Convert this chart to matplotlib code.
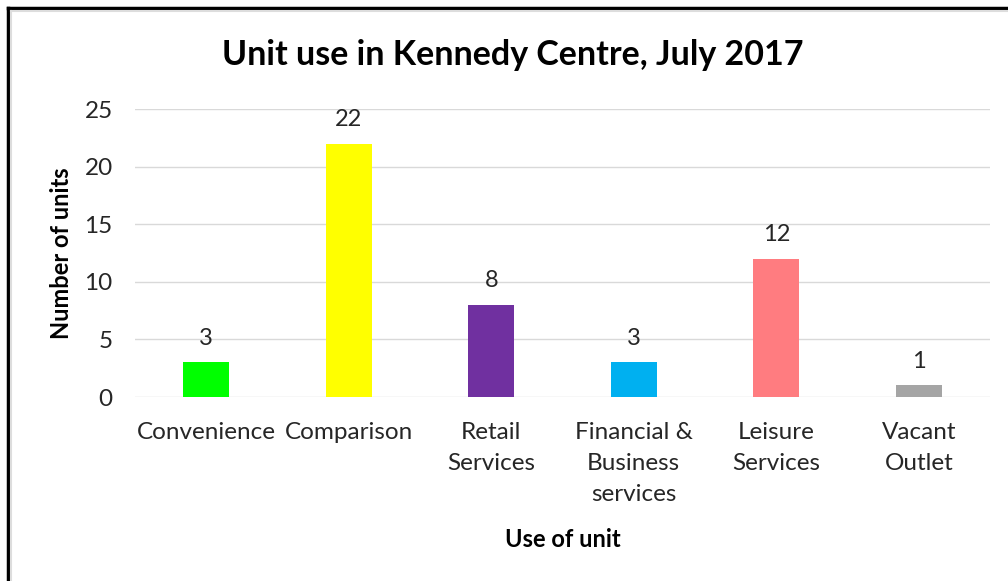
import matplotlib.pyplot as plt
from matplotlib.lines import Line2D

categories = ['Convenience', 'Comparison', 'Retail\nServices', 'Financial &\nBusiness\nservices',
              'Leisure\nServices', 'Vacant\nOutlet']
units = [3, 22, 8, 3, 12, 1]
colors = ['#00FF00', '#FFFF00', '#7030A0', '#00B0F0', '#FF7C80', '#A5A5A5']
yticks = [0, 5, 10, 15, 20, 25]

plt.rcParams['font.family'] = ['Lato', 'DejaVu Sans']

fig = plt.figure(figsize=(10.08, 5.81), dpi=100)
ax = fig.add_axes([135 / 1008, 1 - 397 / 581, (990 - 135) / 1008, (397 - 109) / 581])

x = range(len(categories))
bars = ax.bar(x, units, width=0.32, color=colors, zorder=3)
for i, v in enumerate(units):
    ax.text(i, v + 1.2, str(v), ha='center', va='bottom', fontsize=17, color='#262626')

ax.set_xlim(-0.5, len(categories) - 0.5)
ax.set_ylim(0, 25)
ax.set_yticks(yticks)
ax.set_xticks(list(x))
ax.set_xticklabels(categories, fontsize=17.5, color='#262626', linespacing=1.6)
ax.tick_params(axis='y', labelsize=17.5, labelcolor='#262626', length=0, pad=16)
ax.tick_params(axis='x', length=0, pad=18)
ax.grid(axis='y', color='#D9D9D9', linewidth=1, zorder=0)
for s in ax.spines.values():
    s.set_visible(False)

fig.text(513 / 1008, 1 - 55 / 581, 'Unit use in Kennedy Centre, July 2017', fontsize=24.5,
         fontweight='bold', ha='center', va='center')
ax.set_ylabel('Number of units', fontsize=17, fontweight='bold', labelpad=8)
ax.set_xlabel('Use of unit', fontsize=17, fontweight='bold', labelpad=16)

# frame around the chart (cut off on the right and bottom)
fw, fh = 1008, 581
fig.add_artist(Line2D([8 / fw, 8 / fw], [0, 1 - 8 / fh], color='black', lw=2.5, transform=fig.transFigure))
fig.add_artist(Line2D([8 / fw, 1], [1 - 8 / fh, 1 - 8 / fh], color='black', lw=2.5, transform=fig.transFigure))
fig.add_artist(Line2D([11 / fw, 11 / fw], [0, 1 - 11 / fh], color='#DDDDDD', lw=1.5, transform=fig.transFigure))
fig.add_artist(Line2D([11 / fw, 1], [1 - 11 / fh, 1 - 11 / fh], color='#DDDDDD', lw=1.5, transform=fig.transFigure))

fig.savefig('out.png', dpi=100)
